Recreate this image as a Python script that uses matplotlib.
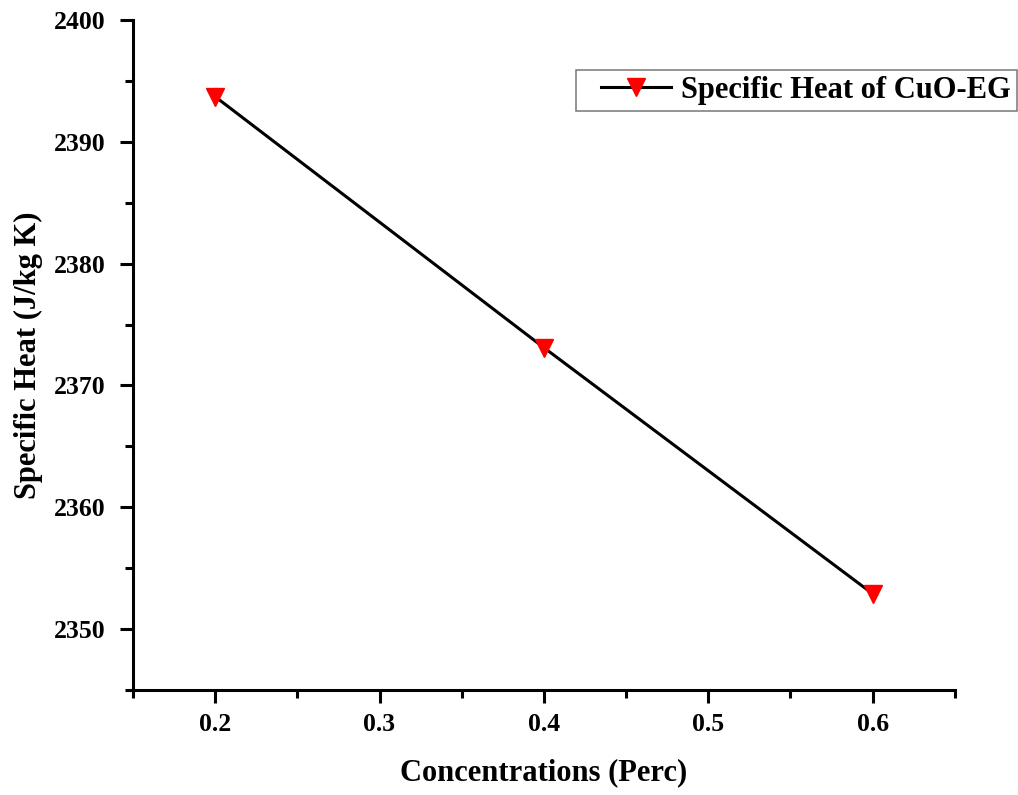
import matplotlib.pyplot as plt
from matplotlib.ticker import MultipleLocator
from matplotlib.legend_handler import HandlerLine2D

# data
concentration = [0.2, 0.4, 0.6]
specific_heat = [2393.7, 2373.1, 2352.9]

plt.rcParams['font.family'] = ['Liberation Serif', 'DejaVu Serif']
plt.rcParams['font.weight'] = 'bold'

fig = plt.figure(figsize=(10.18, 7.95), dpi=100)
ax = fig.add_axes([0.1306, 0.132, 0.8074, 0.843])

line, = ax.plot(concentration, specific_heat, color='black', linewidth=2.2,
                marker='v', markersize=13.5, markerfacecolor='red', markeredgecolor='red',
                label='Specific Heat of CuO-EG')

ax.set_xlim(0.15, 0.65)
ax.set_ylim(2345, 2400)
ax.xaxis.set_major_locator(MultipleLocator(0.1))
ax.xaxis.set_minor_locator(MultipleLocator(0.05))
ax.yaxis.set_major_locator(MultipleLocator(10))
ax.yaxis.set_minor_locator(MultipleLocator(5))

for side in ['top', 'right']:
    ax.spines[side].set_visible(False)
for side in ['left', 'bottom']:
    ax.spines[side].set_linewidth(2.2)

ax.tick_params(which='major', direction='out', length=9.5, width=2.2, labelsize=18.5)
ax.tick_params(axis='y', which='major', pad=10)
ax.tick_params(axis='x', which='major', pad=7)
ax.tick_params(which='minor', direction='out', length=6, width=2.2)
for lab in ax.get_xticklabels() + ax.get_yticklabels():
    lab.set_fontweight('bold')

ax.set_xlabel('Concentrations (Perc)', fontsize=22, fontweight='bold', labelpad=16)
ax.set_ylabel('Specific Heat (J/kg K)', fontsize=22, fontweight='bold', labelpad=8)

leg = ax.legend(loc='upper right', bbox_to_anchor=(1017 / 1018, 725 / 795),
                bbox_transform=fig.transFigure, fontsize=22, numpoints=1,
                handlelength=2.92, frameon=True, fancybox=False,
                borderpad=0.2, handletextpad=0.33, borderaxespad=0,
                handler_map={line: HandlerLine2D(xpad=0.62)})
leg.get_frame().set_edgecolor('#555555')
leg.get_frame().set_linewidth(1.1)
for t in leg.get_texts():
    t.set_fontweight('bold')

fig.savefig('out.png', dpi=100)
